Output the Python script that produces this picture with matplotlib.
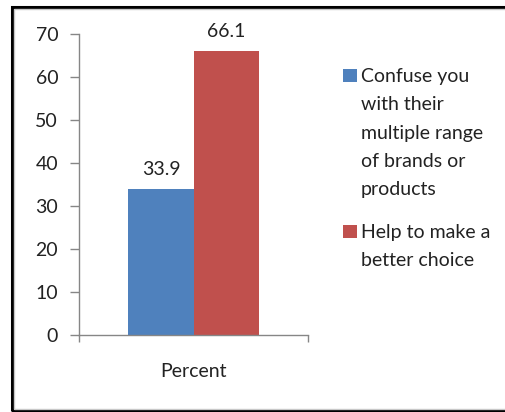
import matplotlib
matplotlib.use("Agg")
import matplotlib.pyplot as plt
from matplotlib.patches import Rectangle

plt.rcParams['font.family'] = ['Lato', 'DejaVu Sans']

category = "Percent"
series_names = [
    ["Confuse you", "with their", "multiple range", "of brands or", "products"],
    ["Help to make a", "better choice"],
]
series_values = [33.9, 66.1]
series_colors = ["#4F81BD", "#C0504D"]
y_ticks = [0, 10, 20, 30, 40, 50, 60, 70]

W, H = 505, 412
FS = 14
TXT = "#222222"

fig = plt.figure(figsize=(W / 100, H / 100), dpi=100)
ax = fig.add_axes([79 / W, 77 / H, 229 / W, 301 / H])

bar_w = 0.284
offsets = [-0.142, 0.144]
for off, v, c in zip(offsets, series_values, series_colors):
    ax.bar(off, v, width=bar_w, color=c, zorder=2)
    ax.annotate(f"{v:.1f}", (off, v), xytext=(0, 8), textcoords="offset points",
                ha="center", va="bottom", fontsize=FS, color=TXT)

ax.set_xlim(-0.5, 0.5)
ax.set_ylim(0, 70)
ax.set_yticks(y_ticks)
ax.tick_params(axis="y", length=6.5, width=1, color="#868686", pad=8.5,
               labelsize=FS, labelcolor=TXT)
ax.set_xticks([0])
ax.set_xticklabels([category])
ax.tick_params(axis="x", which="major", length=0, pad=20, labelsize=FS,
               labelcolor=TXT)
ax.set_xticks([-0.5, 0.5], minor=True)
ax.tick_params(axis="x", which="minor", length=5, width=1, color="#868686")

for s in ["top", "right"]:
    ax.spines[s].set_visible(False)
for s in ["left", "bottom"]:
    ax.spines[s].set_color("#868686")
    ax.spines[s].set_linewidth(1)

# legend: colour square beside the first line of each wrapped label
line_step = 28.3
entry_tops = [75, 231]
for top, lines, c in zip(entry_tops, series_names, series_colors):
    fig.patches.append(Rectangle((343 / W, 1 - (top + 6.5) / H), 14 / W, 13 / H,
                                 transform=fig.transFigure, facecolor=c,
                                 edgecolor="none"))
    for i, line in enumerate(lines):
        fig.text(361 / W, 1 - (top + i * line_step) / H, line, fontsize=FS,
                 color=TXT, ha="left", va="center_baseline")

# outer frame
fig.patches.append(Rectangle((12 / W, 1.5 / H), 1.2, 403.5 / H,
                             transform=fig.transFigure, fill=False,
                             edgecolor="black", linewidth=2.2))
fig.patches.append(Rectangle((14 / W, 3.3 / H), 1.2, 399.5 / H,
                             transform=fig.transFigure, fill=False,
                             edgecolor="#c8c8c8", linewidth=1))

fig.savefig("out.png", dpi=100)
